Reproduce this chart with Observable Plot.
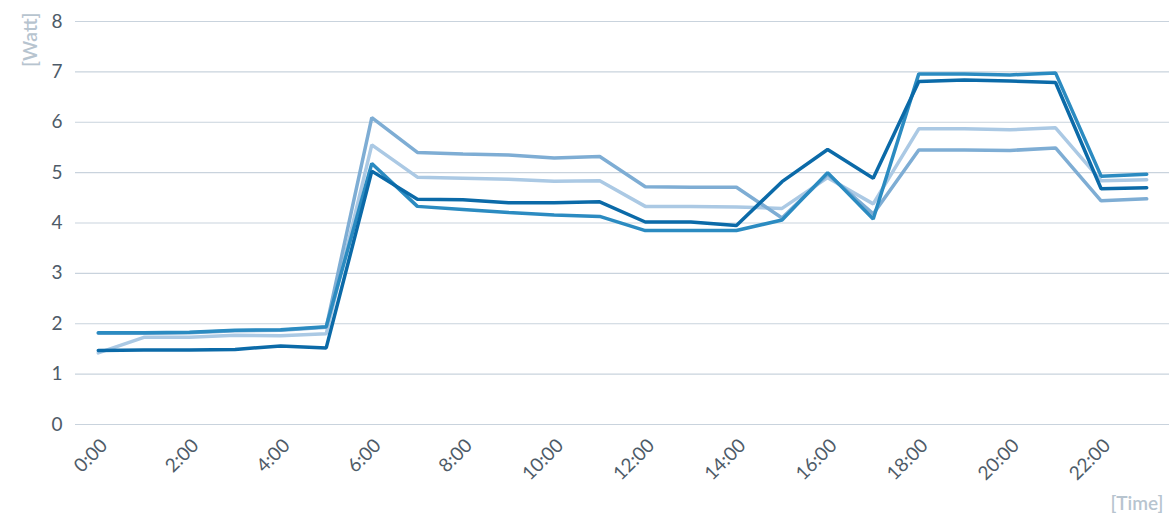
<!DOCTYPE html>
<html>
<head>
<meta charset="utf-8">
<script src="https://cdn.jsdelivr.net/npm/d3@7"></script>
<script src="https://cdn.jsdelivr.net/npm/@observablehq/plot@0.6"></script>
<style>
  html, body { margin: 0; padding: 0; background: #fff; }
  #chart { width: 1169px; height: 514px; }
</style>
</head>
<body>
<div id="chart"></div>
<script>
const hours = [0,1,2,3,4,5,6,7,8,9,10,11,12,13,14,15,16,17,18,19,20,21,22,23];
const tickHours = [0,2,4,6,8,10,12,14,16,18,20,22];
const yTicks = [0,1,2,3,4,5,6,7,8];

const seriesNames = ["D", "C", "B", "A"];
const seriesColors = ["#abc9e4", "#7eadd4", "#2b8bc1", "#0b6aa8"];

const seriesA = [1.47,1.48,1.48,1.49,1.56,1.52,5.03,4.47,4.46,4.40,4.40,4.42,4.02,4.02,3.95,4.82,5.46,4.89,6.81,6.84,6.82,6.79,4.68,4.70];
const seriesB = [1.82,1.82,1.83,1.87,1.88,1.94,5.18,4.33,4.27,4.21,4.16,4.13,3.85,3.85,3.85,4.06,5.00,4.08,6.96,6.96,6.94,6.98,4.93,4.97];
const seriesC = [1.81,1.81,1.82,1.86,1.87,1.93,6.09,5.40,5.37,5.35,5.29,5.32,4.72,4.71,4.71,4.10,4.97,4.18,5.45,5.45,5.44,5.49,4.44,4.48];
const seriesD = [1.42,1.73,1.73,1.77,1.76,1.80,5.55,4.91,4.89,4.87,4.83,4.84,4.33,4.33,4.32,4.29,4.90,4.38,5.87,5.87,5.85,5.89,4.84,4.86];

const seriesValues = {A: seriesA, B: seriesB, C: seriesC, D: seriesD};
const data = seriesNames.flatMap(name => hours.map((h, i) => ({series: name, hour: h, value: seriesValues[name][i]})));

const chart = Plot.plot({
  width: 1169,
  height: 514,
  marginLeft: 75,
  marginRight: 0,
  marginTop: 21,
  marginBottom: 90,
  style: {fontFamily: "Lato, 'Noto Sans', sans-serif", fontSize: "19px", color: "#4e5b68", background: "#fff"},
  x: {type: "point", domain: hours, padding: 0.5, round: false, axis: null},
  y: {domain: [0, 8], axis: null},
  color: {domain: seriesNames, range: seriesColors},
  marks: [
    Plot.gridY(yTicks, {stroke: "#c9d3dd", strokeOpacity: 1, strokeWidth: 1.2}),
    Plot.axisY(yTicks, {tickSize: 0, tickPadding: 13, tickFormat: d => String(d), fontSize: 19, fill: "#4e5b68", label: null}),
    Plot.text(tickHours, {x: d => d, frameAnchor: "bottom", text: d => d + ":00", rotate: -45, textAnchor: "end", lineAnchor: "middle", dx: 6, dy: 18, fontSize: 19, fill: "#4e5b68"}),
    Plot.line(data, {x: "hour", y: "value", z: "series", stroke: "series", strokeWidth: 3.5, strokeLinejoin: "miter"}),
    Plot.text(["[Watt]"], {frameAnchor: "top-left", text: d => d, rotate: -90, textAnchor: "end", lineAnchor: "middle", dx: -45, dy: -9, fontSize: 19.5, fontWeight: 600, fill: "#b7c4cf"}),
    Plot.text(["[Time]"], {frameAnchor: "bottom-right", text: d => d, textAnchor: "end", lineAnchor: "middle", dx: -6, dy: 79, fontSize: 19, fontWeight: 600, fill: "#b7c4cf"})
  ]
});
document.getElementById("chart").appendChild(chart);
</script>
</body>
</html>
